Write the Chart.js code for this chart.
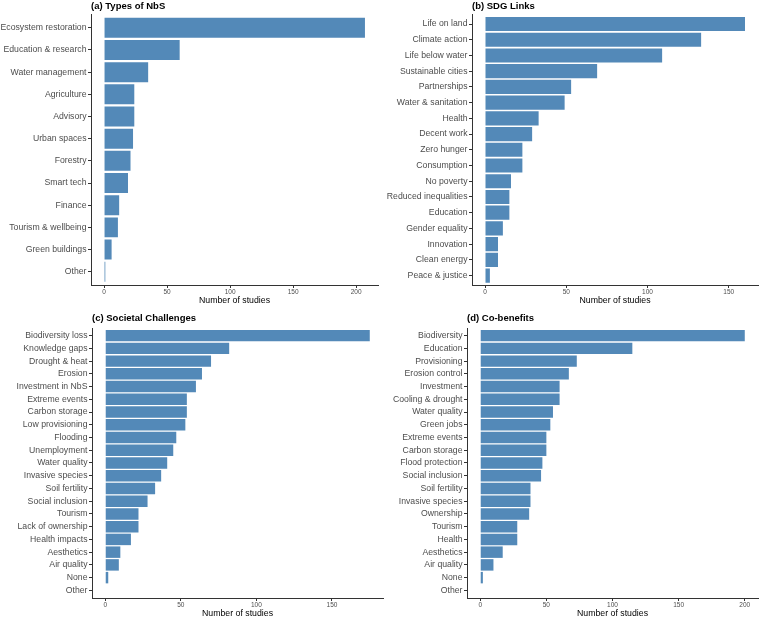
<!DOCTYPE html>
<html lang="en">
<head>
  <meta charset="UTF-8" />
  <title>NbS review - four panels</title>
  <script src="https://cdn.jsdelivr.net/npm/chart.js"></script>
  <style>
    body { margin: 0; background: #fff; }
    #wrap { position: relative; width: 760px; height: 618px; overflow: hidden; }
    canvas { position: absolute; }
  </style>
</head>
<body>
  <div id="wrap">
    <canvas id="chartA" width="380" height="305" style="left:0;top:0"></canvas>
    <canvas id="chartB" width="380" height="305" style="left:380px;top:0"></canvas>
    <canvas id="chartC" width="385" height="313" style="left:0;top:305px"></canvas>
    <canvas id="chartD" width="380" height="313" style="left:380px;top:305px"></canvas>
  </div>
  <script>
    // (a) Types of NbS
    const typeLabels = ['Ecosystem restoration', 'Education & research', 'Water management', 'Agriculture',
      'Advisory', 'Urban spaces', 'Forestry', 'Smart tech', 'Finance', 'Tourism & wellbeing',
      'Green buildings', 'Other'];
    const typeCounts = [207, 60, 35, 24, 24, 23, 21, 19, 12, 11, 6, 1];
    const typeTicks = [0, 50, 100, 150, 200];

    // (b) SDG links
    const sdgLabels = ['Life on land', 'Climate action', 'Life below water', 'Sustainable cities',
      'Partnerships', 'Water & sanitation', 'Health', 'Decent work', 'Zero hunger', 'Consumption',
      'No poverty', 'Reduced inequalities', 'Education', 'Gender equality', 'Innovation',
      'Clean energy', 'Peace & justice'];
    const sdgCounts = [160, 133, 109, 69, 53, 49, 33, 29, 23, 23, 16, 15, 15, 11, 8, 8, 3];
    const sdgTicks = [0, 50, 100, 150];

    // (c) Societal challenges
    const challengeLabels = ['Biodiversity loss', 'Knowledge gaps', 'Drought & heat', 'Erosion',
      'Investment in NbS', 'Extreme events', 'Carbon storage', 'Low provisioning', 'Flooding',
      'Unemployment', 'Water quality', 'Invasive species', 'Soil fertility', 'Social inclusion',
      'Tourism', 'Lack of ownership', 'Health impacts', 'Aesthetics', 'Air quality', 'None', 'Other'];
    const challengeCounts = [175, 82, 70, 64, 60, 54, 54, 53, 47, 45, 41, 37, 33, 28, 22, 22, 17, 10, 9, 2, 0];
    const challengeTicks = [0, 50, 100, 150];

    // (d) Co-benefits
    const benefitLabels = ['Biodiversity', 'Education', 'Provisioning', 'Erosion control', 'Investment',
      'Cooling & drought', 'Water quality', 'Green jobs', 'Extreme events', 'Carbon storage',
      'Flood protection', 'Social inclusion', 'Soil fertility', 'Invasive species', 'Ownership',
      'Tourism', 'Health', 'Aesthetics', 'Air quality', 'None', 'Other'];
    const benefitCounts = [200, 115, 73, 67, 60, 60, 55, 53, 50, 50, 47, 46, 38, 38, 37, 28, 28, 17, 10, 2, 0];
    const benefitTicks = [0, 50, 100, 150, 200];

    Chart.defaults.font.family = "'Liberation Sans', Arial, sans-serif";

    const barColor = '#5389b8';
    const axisColor = '#333333';
    const tickTextColor = '#4d4d4d';

    // bold panel heading, drawn flush with the left edge of the plot area
    const panelTitle = {
      id: 'panelTitle',
      afterDraw(chart, args, opts) {
        const ctx = chart.ctx;
        ctx.save();
        ctx.font = "bold 9.5px 'Liberation Sans', Arial, sans-serif";
        ctx.fillStyle = '#000';
        ctx.textBaseline = 'middle';
        ctx.fillText(opts.text, chart.chartArea.left, opts.y);
        ctx.restore();
      }
    };

    // box = plot area inside the canvas (left, right, top, bottom in px)
    function makePanel(id, title, labels, values, xTicks, box, titleY) {
      const canvas = document.getElementById(id);
      const W = canvas.width, H = canvas.height;
      const top = Math.max(...values);

      return new Chart(canvas, {
        type: 'bar',
        data: {
          datasets: [{
            data: values.map((v, i) => ({ x: v, y: i })),
            backgroundColor: barColor,
            borderWidth: 0,
            barPercentage: 0.9,
            categoryPercentage: 1
          }]
        },
        options: {
          indexAxis: 'y',
          responsive: false,
          animation: false,
          layout: { padding: { top: box.top, right: W - box.right, left: 0, bottom: 0 } },
          plugins: {
            legend: { display: false },
            tooltip: { enabled: false },
            panelTitle: { text: title, y: titleY }
          },
          scales: {
            y: {
              type: 'linear',
              reverse: true,
              offset: false,
              bounds: 'data',
              min: -0.6,
              max: labels.length - 0.4,
              afterBuildTicks: s => { s.ticks = labels.map((_, i) => ({ value: i })); },
              afterFit: s => { s.width = box.left; },
              ticks: {
                autoSkip: false,
                padding: 1.5,
                color: tickTextColor,
                font: { size: 8.7 },
                callback: v => labels[v]
              },
              grid: { offset: false, drawOnChartArea: false, tickLength: 3, tickColor: axisColor },
              border: { color: axisColor, width: 1 }
            },
            x: {
              type: 'linear',
              bounds: 'data',
              min: -0.05 * top,
              max: 1.05 * top,
              afterBuildTicks: s => { s.ticks = xTicks.map(v => ({ value: v })); },
              afterFit: s => { s.height = H - box.bottom; },
              ticks: {
                padding: 0.5,
                color: tickTextColor,
                font: { size: 6.5 },
                maxRotation: 0
              },
              grid: { drawOnChartArea: false, tickLength: 3, tickColor: axisColor },
              border: { color: axisColor, width: 1 },
              title: {
                display: true,
                text: 'Number of studies',
                color: '#000',
                font: { size: 8.75, lineHeight: 1 },
                padding: 0
              }
            }
          }
        },
        plugins: [panelTitle]
      });
    }

    makePanel('chartA', '(a) Types of NbS', typeLabels, typeCounts, typeTicks,
      { left: 91, right: 378, top: 14.5, bottom: 285 }, 6);
    makePanel('chartB', '(b) SDG Links', sdgLabels, sdgCounts, sdgTicks,
      { left: 92, right: 378, top: 14.6, bottom: 285 }, 6);
    makePanel('chartC', '(c) Societal Challenges', challengeLabels, challengeCounts, challengeTicks,
      { left: 92, right: 383, top: 23, bottom: 293 }, 13.3);
    makePanel('chartD', '(d) Co-benefits', benefitLabels, benefitCounts, benefitTicks,
      { left: 87, right: 378, top: 23, bottom: 293 }, 13.3);
  </script>
</body>
</html>
